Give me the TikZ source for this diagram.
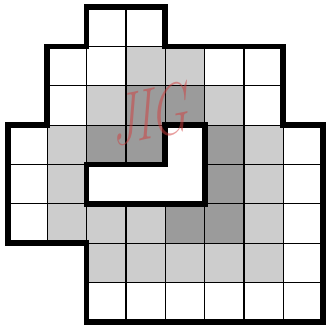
\documentclass[tikz,border=0pt]{standalone}
\usetikzlibrary{math}
\definecolor{lightcell}{RGB}{205,205,205}
\definecolor{darkcell}{RGB}{155,155,155}
\definecolor{markred}{RGB}{210,60,60}

\begin{document}
\begin{tikzpicture}[x=1cm,y=1cm]
\tikzmath{
\thin=0.9;
\thick=4.2;
}
\useasboundingbox (-0.2,-0.18) rectangle (8.11,8.18);

% shaded cells (cell c,r: top left at (c,8-r))
\foreach \c/\r in {3/1,4/1,2/2,5/2,1/3,6/3,1/4,6/4,1/5,2/5,3/5,6/5,2/6,3/6,4/6,5/6,6/6}
  \fill[lightcell] (\c,7-\r) rectangle +(1,1);
\foreach \c/\r in {3/2,4/2,2/3,3/3,5/3,5/4,4/5,5/5}
  \fill[darkcell] (\c,7-\r) rectangle +(1,1);

% thin grid
\foreach \r/\a/\b in {0/2/3,1/1/6,2/1/6,3/0/3,3/5/7,4/0/1,4/5/7,5/0/7,6/2/7,7/2/7}
  \foreach \c in {\a,...,\b}
    \draw[line width=\thin pt] (\c,7-\r) rectangle +(1,1);

%%%%%%%%%%   outline
\draw[line width=\thick pt] (2,8) -- (4,8) -- (4,7) -- (7,7) -- (7,5) -- (8,5) -- (8,0)
  -- (2,0) -- (2,2) -- (0,2) -- (0,5) -- (1,5) -- (1,7) -- (2,7) -- cycle;
% hole
\fill[white] (4,5) -- (5,5) -- (5,3) -- (2,3) -- (2,4) -- (4,4) -- cycle;
\draw[line width=\thick pt] (4,5) -- (5,5) -- (5,3) -- (2,3) -- (2,4) -- (4,4) -- cycle;

\node[text=markred, opacity=0.5, rotate=12, xslant=0.3, xscale=0.68,
  font=\fontsize{52}{52}\selectfont] (jig) at (3.7,5.3) {JIG};
\end{tikzpicture}
\end{document}
